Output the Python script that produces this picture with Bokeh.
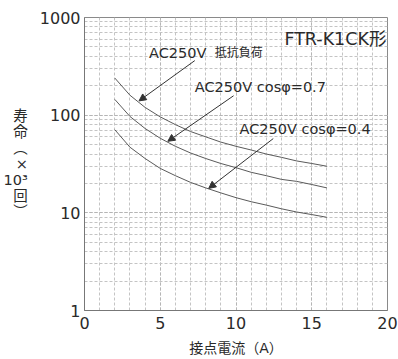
from bokeh.plotting import figure
from bokeh.models import (Label, Arrow, NormalHead, SingleIntervalTicker, LogTicker,
                          PrintfTickFormatter, Range1d, ColumnDataSource)
from bokeh.embed import file_html
from bokeh.resources import INLINE

# ---- data ----
current = [2, 3, 4, 5, 6, 7, 8, 9, 10, 11, 12, 13, 14, 15, 16]
life_resistive = [240, 160, 120, 96, 80, 68, 60, 53, 48, 44, 40, 37, 34, 32, 30]
life_cos07 = [145, 97, 73, 58, 48, 41, 36, 32, 29, 26, 24, 22, 21, 19.5, 18]
life_cos04 = [71, 47, 36, 28.5, 24, 20.5, 18, 16, 14.3, 13, 12, 11, 10.2, 9.6, 9]

series_names = ["AC250V ", "AC250V cosφ=0.7", "AC250V cosφ=0.4"]
series_suffix = ["抵抗負荷", "", ""]
title_text = "FTR-K1CK形"
x_label = "接点電流（A）"
y_label_parts = ["寿", "命", "︵", "×", "10³", "回", "︶"]

# annotation anchor points (data units)
label_x = [4.26, 7.28, 10.23]
label_y = [437, 196, 73]
arrow_x0 = [7.28, 9.84, 12.46]
arrow_y0 = [362, 158, 57.6]
arrow_x1 = [3.6, 5.5, 8.2]
arrow_y1 = [140, 54, 17.8]

FONT = "DejaVu Sans, Noto Sans CJK JP"
TXT = "#2a2a2a"

# frame placement within the canvas (pixels)
FL, FR, FT, FB = 82, 387, 17, 310

p = figure(width=398, height=359, output_backend="svg", toolbar_location=None,
           y_axis_type="log", x_range=Range1d(0, 20), y_range=Range1d(1, 1000),
           min_border_left=FL, min_border_right=398 - FR, min_border_top=FT,
           min_border_bottom=359 - FB)
p.background_fill_color = "white"
p.border_fill_color = "white"
p.outline_line_color = "#8a8a8a"
p.outline_line_width = 1

# axes
p.xaxis.ticker = SingleIntervalTicker(interval=5, num_minor_ticks=5)
p.yaxis.ticker = LogTicker(num_minor_ticks=10)
p.yaxis.formatter = PrintfTickFormatter(format="%d")
for ax in (p.xaxis[0], p.yaxis[0]):
    ax.axis_line_color = "#777777"
    ax.major_tick_out = 0
    ax.major_tick_in = 0
    ax.minor_tick_out = 0
    ax.minor_tick_in = 0
    ax.major_label_text_font = FONT
    ax.major_label_text_font_size = "16px"
    ax.major_label_text_color = TXT
    ax.axis_label_text_font = FONT
    ax.axis_label_text_font_style = "normal"
    ax.axis_label_text_color = TXT
p.yaxis.major_label_standoff = 4
p.xaxis.major_label_standoff = 6

p.xaxis.axis_label = x_label
p.xaxis.axis_label_text_font_size = "14px"
p.xaxis.axis_label_standoff = 8

p.yaxis.axis_label = "\n".join(y_label_parts)
p.yaxis.axis_label_text_font_size = "14.5px"
p.yaxis.axis_label_text_line_height = 1.0
p.yaxis.axis_label_orientation = "horizontal"
p.yaxis.axis_label_standoff = 9

# grids
for g in (p.xgrid[0], p.ygrid[0]):
    g.grid_line_color = "#b5b5b5"
    g.grid_line_dash = "3 2"
    g.grid_line_width = 1
    g.minor_grid_line_color = "#c4c4c4"
    g.minor_grid_line_dash = "3 2"
    g.minor_grid_line_width = 1

# curves
src = ColumnDataSource(dict(x=current, a=life_resistive, b=life_cos07, c=life_cos04))
for col in ("a", "b", "c"):
    p.line("x", col, source=src, line_color="#5a5a5a", line_width=1)

# arrows
for i in range(3):
    p.add_layout(Arrow(x_start=arrow_x0[i], y_start=arrow_y0[i], x_end=arrow_x1[i], y_end=arrow_y1[i],
                       line_color="#333333", line_width=1,
                       end=NormalHead(size=7, fill_color="#333333", line_color="#333333")))

# series labels
for i in range(3):
    p.add_layout(Label(x=label_x[i], y=label_y[i], text=series_names[i], text_font=FONT,
                       text_font_size="14.5px", text_color=TXT, text_align="left",
                       text_baseline="middle"))
p.add_layout(Label(x=8.59, y=label_y[0], text=series_suffix[0], text_font=FONT,
                   text_font_size="12px", text_color=TXT, text_align="left",
                   text_baseline="middle"))

# title inside plot
p.add_layout(Label(x=19.93, y=608, text=title_text, text_font=FONT, text_font_size="17.5px",
                   text_color=TXT, text_align="right", text_baseline="middle"))

open("out.html", "w").write(file_html(p, INLINE))
